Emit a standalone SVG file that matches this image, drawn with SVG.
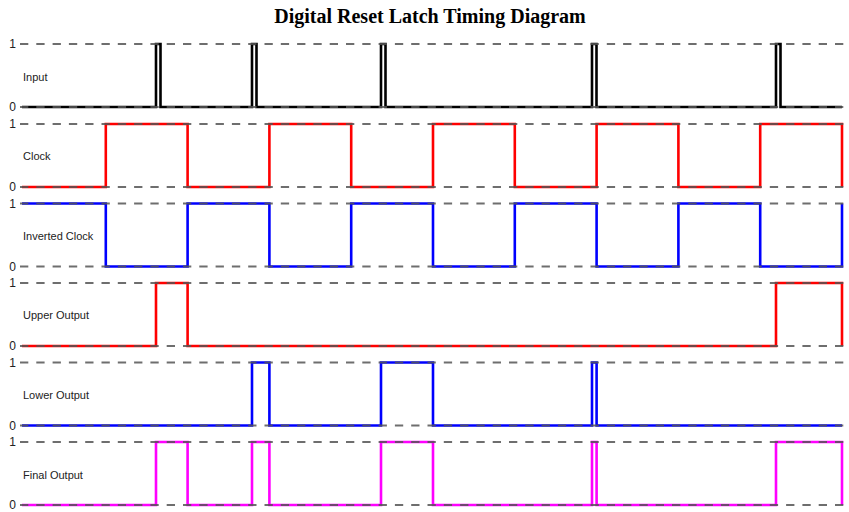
<svg xmlns="http://www.w3.org/2000/svg" width="849" height="512" viewBox="0 0 849 512">
<style>
.title{font-family:"Liberation Serif","Times New Roman",serif;font-weight:bold;font-size:20px;fill:#000}
.lbl{font-family:"Liberation Sans",Arial,sans-serif;font-size:11px;fill:#222}
.tk{font-family:"Liberation Sans",Arial,sans-serif;font-size:12px;fill:#222;text-anchor:end}
.sig{fill:none;stroke-width:2.6;stroke-linejoin:miter}
.grid{stroke:#555;stroke-opacity:0.85;stroke-width:2.2;stroke-dasharray:8.3 8;fill:none}
</style>
<rect width="849" height="512" fill="#fff"/>
<text class="title" x="430" y="23" text-anchor="middle">Digital Reset Latch Timing Diagram</text>

<g id="labels">
<text class="lbl" x="23" y="81">Input</text>
<text class="lbl" x="23" y="160">Clock</text>
<text class="lbl" x="23" y="240">Inverted Clock</text>
<text class="lbl" x="23" y="319">Upper Output</text>
<text class="lbl" x="23" y="399">Lower Output</text>
<text class="lbl" x="23" y="479">Final Output</text>
</g>

<g id="ticks">
<text class="tk" x="16" y="48">1</text><text class="tk" x="16" y="111">0</text>
<text class="tk" x="16" y="128">1</text><text class="tk" x="16" y="191">0</text>
<text class="tk" x="16" y="207.5">1</text><text class="tk" x="16" y="270.5">0</text>
<text class="tk" x="16" y="287">1</text><text class="tk" x="16" y="350">0</text>
<text class="tk" x="16" y="366.5">1</text><text class="tk" x="16" y="429.5">0</text>
<text class="tk" x="16" y="446">1</text><text class="tk" x="16" y="509">0</text>
</g>

<g id="input">
<path class="sig" stroke="#000" d="M22,107 H156 V44 H160.5 V107 H252 V44 H256.5 V107 H381 V44 H385.5 V107 H592 V44 H596.5 V107 H776 V44 H780.5 V107 H842"/>
</g>
<g id="clock">
<path class="sig" stroke="#ff0000" d="M22,187 H105.8 V124 H187.6 V187 H269.4 V124 H351.2 V187 H433 V124 H514.8 V187 H596.6 V124 H678.4 V187 H760.2 V124 H842 V187"/>
</g>
<g id="inverted-clock">
<path class="sig" stroke="#0000ff" d="M22,203.5 H105.8 V266.5 H187.6 V203.5 H269.4 V266.5 H351.2 V203.5 H433 V266.5 H514.8 V203.5 H596.6 V266.5 H678.4 V203.5 H760.2 V266.5 H842 V203.5"/>
</g>
<g id="upper-output">
<path class="sig" stroke="#ff0000" d="M22,346 H156 V283 H187.6 V346 H776 V283 H842 V346"/>
</g>
<g id="lower-output">
<path class="sig" stroke="#0000ff" d="M22,425.5 H252 V362.5 H269.4 V425.5 H381 V362.5 H433 V425.5 H592 V362.5 H596.6 V425.5 H842"/>
</g>
<g id="final-output">
<path class="sig" stroke="#ff00ff" d="M22,505 H156 V442 H187.6 V505 H252 V442 H269.4 V505 H381 V442 H433 V505 H592 V442 H596.6 V505 H776 V442 H842 V505"/>
</g>

<g id="connectors">
<path class="grid" d="M20,44 H846 M20,107 H846 M20,124 H846 M20,187 H846 M20,203.5 H846 M20,266.5 H846 M20,283 H846 M20,346 H846 M20,362.5 H846 M20,425.5 H846 M20,442 H846 M20,505 H846"/>
</g>
</svg>
